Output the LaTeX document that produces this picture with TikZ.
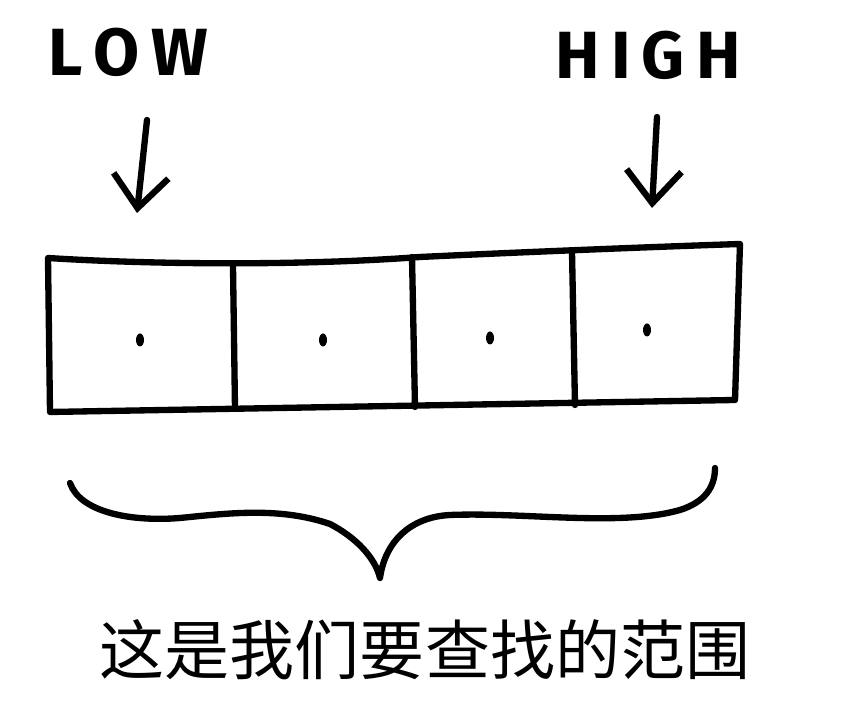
\documentclass[tikz,border=0pt]{standalone}
\usepackage{fontspec}
\setsansfont{Fira Sans}
\newfontfamily\cjkfont{Noto Sans CJK SC}
\usetikzlibrary{arrows.meta}
\begin{document}
\begin{tikzpicture}[
    pen/.style={line width=3.6pt, line cap=round, line join=round},
    pointer/.style={pen, -{Straight Barb[length=6.5mm, width=11mm, line width=3.6pt]}},
    tag/.style={font=\sffamily\bfseries\fontsize{38}{44}\selectfont}]
    \useasboundingbox (0,0) rectangle (17.2,14.04);

    % Labels and pointers
    \node[tag] (low) at (2.56,13.0) {L\,O\,W};
    \node[tag] (high) at (12.96,12.94) {H\,I\,G\,H};
    \coordinate (lowtail) at (2.94,11.64);
    \coordinate (lowtip) at (2.74,9.78);
    \coordinate (hightail) at (13.14,11.7);
    \coordinate (hightip) at (13.04,9.88);
    \draw[pointer] (lowtail) -- (lowtip);
    \draw[pointer] (hightail) -- (hightip);

    % Array outline and cells
    \draw[pen] (0.96,8.88) .. controls (3.0,8.75) and (6.0,8.72) .. (8.4,8.9)
        .. controls (10.5,9.0) and (13.0,9.1) .. (14.8,9.16)
        -- (14.7,6.04) -- (1.0,5.8) -- cycle;
    \draw[pen] (4.66,8.72) -- (4.7,5.86);
    \draw[pen] (8.24,8.9) -- (8.3,5.9);
    \draw[pen] (11.44,9.0) -- (11.5,5.94);
    \foreach \p in {(2.8,7.24),(6.46,7.24),(9.8,7.28),(12.94,7.44)}
        \fill \p ellipse (0.08 and 0.13);

    % Brace under the range
    \draw[pen] (1.4,4.38) .. controls (1.6,3.8) and (2.6,3.6) .. (3.6,3.68)
        .. controls (4.6,3.78) and (5.6,3.9) .. (6.6,3.56)
        .. controls (7.1,3.3) and (7.5,2.9) .. (7.6,2.48)
        .. controls (7.7,3.2) and (8.2,3.7) .. (9.0,3.74)
        .. controls (10.5,3.8) and (12.4,3.5) .. (13.6,3.84)
        .. controls (14.1,4.0) and (14.3,4.3) .. (14.3,4.68);
    \node[font=\cjkfont\fontsize{37}{44}\selectfont] (range) at (8.5,1.04)
        {这是我们要查找的范围};
\end{tikzpicture}
\end{document}
